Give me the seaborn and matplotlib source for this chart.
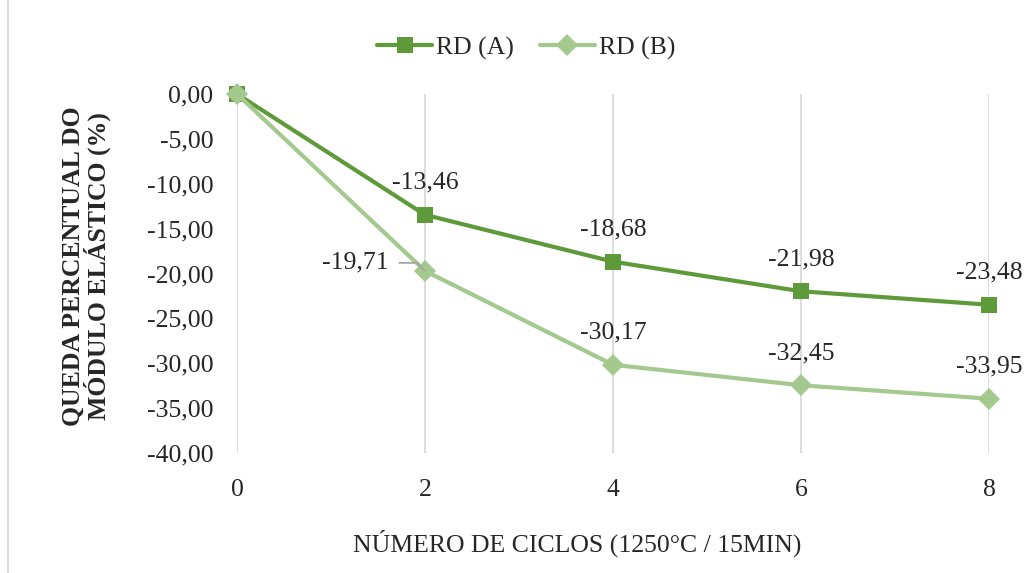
import matplotlib
matplotlib.use("Agg")
import matplotlib.pyplot as plt
import seaborn as sns
import pandas as pd
from matplotlib.patches import Rectangle

ciclos = [0, 2, 4, 6, 8]
rd_a = [0.0, -13.46, -18.68, -21.98, -23.48]
rd_b = [0.0, -19.71, -30.17, -32.45, -33.95]
series_names = ["RD (A)", "RD (B)"]
yticks = [0, -5, -10, -15, -20, -25, -30, -35, -40]

col_a = "#5E9A3A"
col_b = "#A4C98E"
FS = 18.5
MS = {"s": 12, "D": 11.5}

sns.set_theme(style="white")
plt.rcParams["font.family"] = ["Liberation Serif", "DejaVu Serif"]

df = pd.DataFrame({
    "ciclos": ciclos * 2,
    "valor": rd_a + rd_b,
    "serie": [series_names[0]] * len(ciclos) + [series_names[1]] * len(ciclos),
})

fig = plt.figure(figsize=(10.24, 5.73), dpi=100)
ax = fig.add_axes([237 / 1024, 1 - 453 / 573, (989 - 237) / 1024, (453 - 94) / 573])

sns.lineplot(data=df, x="ciclos", y="valor", hue="serie", style="serie",
             palette={series_names[0]: col_a, series_names[1]: col_b},
             markers={series_names[0]: "s", series_names[1]: "D"},
             dashes=False, linewidth=3.0, markeredgewidth=0,
             ax=ax, legend=True, hue_order=series_names)
for ln in ax.lines:
    ln.set_clip_on(False)
    if ln.get_marker() in MS:
        ln.set_markersize(MS[ln.get_marker()])

ax.set_xlim(0, 8)
ax.set_ylim(-40, 0)
ax.set_xticks([0, 2, 4, 6, 8])
ax.set_yticks(yticks)
ax.set_xticklabels([str(c) for c in [0, 2, 4, 6, 8]], fontsize=FS)
ax.set_yticklabels([f"{v:.2f}".replace(".", ",") for v in yticks], fontsize=FS)
ax.tick_params(axis="x", length=0, pad=19)
ax.tick_params(axis="y", length=0, pad=17)
ax.grid(axis="x", color="#D9D9D9", linewidth=1.3)
ax.grid(axis="y", visible=False)
for s in ax.spines.values():
    s.set_visible(False)
ax.set_xlabel("")
ax.set_ylabel("")

# legend
h, l = ax.get_legend_handles_labels()
hd = dict(zip(l, h))
leg = ax.legend([hd[n] for n in series_names], series_names, loc="center",
                bbox_to_anchor=(526 / 1024, 1 - 48 / 573), bbox_transform=fig.transFigure,
                ncol=2, frameon=False, fontsize=FS, handlelength=2.15, columnspacing=1.0,
                handletextpad=0.15)
for lh in leg.get_lines():
    if lh.get_marker() in MS:
        lh.set_markersize(MS[lh.get_marker()])

def fmt(v):
    return f"{v:.2f}".replace(".", ",")

for x, y in zip(ciclos, rd_a):
    if x == 0:
        continue
    ax.annotate(fmt(y), (x, y), xytext=(0, 26), textcoords="offset pixels",
                ha="center", va="baseline", fontsize=FS, annotation_clip=False)

for x, y in zip(ciclos, rd_b):
    if x == 0 or x == 2:
        continue
    ax.annotate(fmt(y), (x, y), xytext=(0, 26), textcoords="offset pixels",
                ha="center", va="baseline", fontsize=FS, annotation_clip=False)
# -19,71 with leader line
ax.annotate(fmt(rd_b[1]), (ciclos[1], rd_b[1]), xytext=(-36, 8), textcoords="offset pixels",
            ha="right", va="center", fontsize=FS,
            arrowprops=dict(arrowstyle="-", color="#A6A6A6", lw=1.3,
                            connectionstyle="angle,angleA=0,angleB=135,rad=0",
                            shrinkA=5, shrinkB=0))

fig.text(86 / 1024, 1 - 266 / 573, "QUEDA PERCENTUAL DO\nMÓDULO ELÁSTICO (%)",
         rotation=90, ha="center", va="center", fontsize=FS, fontweight="bold",
         linespacing=0.95)
fig.text(577 / 1024, 1 - 543 / 573, "NÚMERO DE CICLOS (1250°C / 15MIN)",
         ha="center", va="center", fontsize=FS)

fig.patches.append(Rectangle((8 / 1024, -0.01), 1.02, 1.05, transform=fig.transFigure,
                             fill=False, edgecolor="#D9D9D9", linewidth=1.3))

fig.savefig("out.png", dpi=100)
